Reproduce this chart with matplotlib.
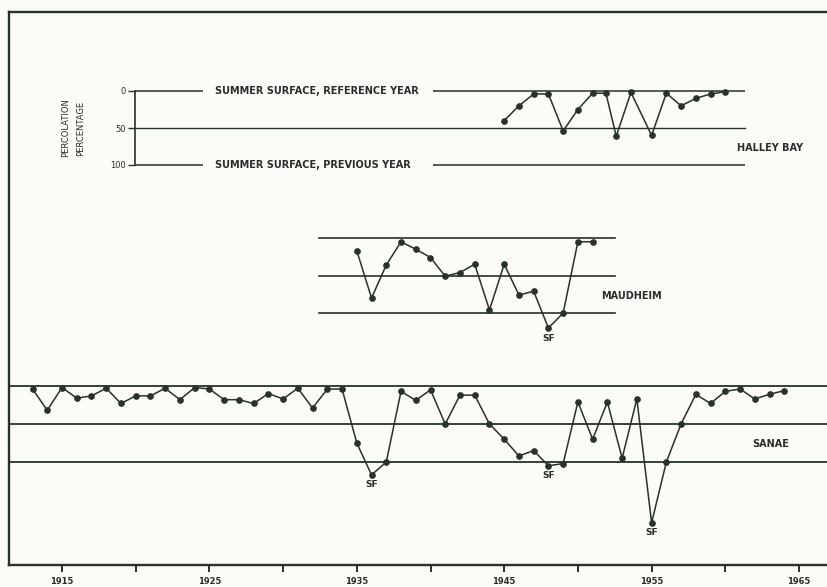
import matplotlib
matplotlib.use("Agg")
import matplotlib.pyplot as plt
from matplotlib.ticker import FixedLocator, NullFormatter

# ---------------------------------------------------------------- data
halley_years = [1945, 1946, 1947, 1948, 1949, 1950, 1951, 1951.9, 1952.6,
                1953.6, 1955, 1956, 1957, 1958, 1959, 1960]
halley_pct = [40, 20, 4, 4, 54, 25, 3, 3, 61, 2, 60, 3, 20, 10, 4, 1]

maudheim_years = list(range(1935, 1952))
maudheim_pct = [17, 80, 36, 5, 15, 26, 51, 46, 35, 96, 35, 76, 71, 120, 100, 5, 5]

sanae_years = list(range(1913, 1965))
sanae_pct = [4, 32, 2, 16, 13, 3, 23, 13, 13, 3,
             18, 2, 4, 18, 18, 23, 10, 17, 3, 29,
             4, 4, 75, 117, 100, 7, 19, 5, 50, 12,
             12, 50, 70, 92, 85, 105, 102, 21, 70, 21,
             95, 17, 180, 100, 50, 11, 23, 7, 4, 17,
             11, 6]

sf_maudheim = [1948]
sf_sanae = [1936, 1948, 1955]

year_ticks = [1915, 1925, 1935, 1945, 1955, 1965]
year_minor = [1920, 1930, 1940, 1950, 1960]
pct_ticks = [0, 50, 100]
pct_labels = ["0", "50", "100"]
guide_levels = [0, 50, 100]

# ---------------------------------------------------------------- layout
W, H = 828, 587
INK = "#28312b"
TXT = "#2c2c2c"
BG = "#fbfbf8"

PX0, PX_PER_YEAR = 62.0, 14.74   # pixel column of 1915 and pixels per year


def yr(px):
    return 1915 + (px - PX0) / PX_PER_YEAR


def rect(x0, y0, x1, y1):
    return [x0 / W, 1 - y1 / H, (x1 - x0) / W, (y1 - y0) / H]


fig = plt.figure(figsize=(W / 100, H / 100), dpi=100, facecolor=BG)

# outer frame with the time axis
ax = fig.add_axes(rect(9, 12, 828, 565))
ax.set_facecolor(BG)
ax.set_xlim(yr(9), yr(828))
ax.set_ylim(0, 1)
ax.set_yticks([])
for side in ("top", "left", "bottom"):
    ax.spines[side].set_linewidth(1.7)
    ax.spines[side].set_color(INK)
ax.spines["right"].set_visible(False)
ax.xaxis.set_major_locator(FixedLocator(year_ticks))
ax.xaxis.set_minor_locator(FixedLocator(year_minor))
ax.xaxis.set_minor_formatter(NullFormatter())
ax.tick_params(axis="x", which="both", direction="out", length=5, width=1.4,
               color=INK, labelsize=6, labelcolor=TXT, pad=4)
for lab in ax.get_xticklabels():
    lab.set_fontweight("bold")

LABEL = dict(fontsize=7, fontweight="bold", color=TXT)


def panel(x0, y0, x1, y1):
    a = fig.add_axes(rect(x0, y0, x1, y1))
    a.patch.set_visible(False)
    a.set_xlim(yr(x0), yr(x1))
    a.set_ylim(100, 0)
    a.set_xticks([])
    a.set_yticks([])
    for s in a.spines.values():
        s.set_visible(False)
    return a


def series(a, years, pct):
    a.plot(years, pct, color=INK, lw=1.1, marker="o", ms=3.8,
           mfc=INK, mec=INK, clip_on=False, zorder=3)


def sf_labels(a, years, pct, marks):
    for y in marks:
        v = pct[years.index(y)]
        a.annotate("SF", (y, v), xytext=(0, -4), textcoords="offset points",
                   ha="center", va="top", fontsize=6.5, fontweight="bold",
                   color=TXT, annotation_clip=False)


# ---- Halley Bay (with the percentage scale)
hb = panel(135, 91, 745, 165)
hb.spines["left"].set_visible(True)
hb.spines["left"].set_linewidth(1.2)
hb.spines["left"].set_color(INK)
hb.set_yticks(pct_ticks)
hb.set_yticklabels(pct_labels)
hb.tick_params(axis="y", direction="out", length=5, width=1.0, color=INK,
               labelsize=6, labelcolor=TXT, pad=1.5)
hb.set_ylabel("PERCOLATION\nPERCENTAGE", fontsize=6, color=TXT, linespacing=1.9)
hb.yaxis.set_label_coords(-0.082, 0.5)
hb.axhline(50, color=INK, lw=1.0, clip_on=False)
for lvl, txt in ((0, "SUMMER SURFACE, REFERENCE YEAR"),
                 (100, "SUMMER SURFACE, PREVIOUS YEAR")):
    hb.hlines(lvl, yr(135), yr(203), color=INK, lw=1.1, clip_on=False)
    hb.hlines(lvl, yr(433), yr(745), color=INK, lw=1.1, clip_on=False)
    hb.text(yr(215), lvl, txt, ha="left", va="center", **LABEL)
series(hb, halley_years, halley_pct)
hb.text(yr(770), 77, "HALLEY BAY", ha="center", va="center", **LABEL)

# ---- Maudheim
md = panel(319, 238, 615, 313)
for lvl in guide_levels:
    md.axhline(lvl, color=INK, lw=1.2, clip_on=False)
series(md, maudheim_years, maudheim_pct)
sf_labels(md, maudheim_years, maudheim_pct, sf_maudheim)
md.text(yr(631), 77, "MAUDHEIM", ha="center", va="center", **LABEL)

# ---- Sanae
sn = panel(9, 386, 828, 462)
for lvl in guide_levels:
    sn.axhline(lvl, color=INK, lw=1.3, clip_on=False)
series(sn, sanae_years, sanae_pct)
sf_labels(sn, sanae_years, sanae_pct, sf_sanae)
sn.text(yr(771), 76, "SANAE", ha="center", va="center", **LABEL)

fig.savefig("out.png", dpi=100, facecolor=BG)
